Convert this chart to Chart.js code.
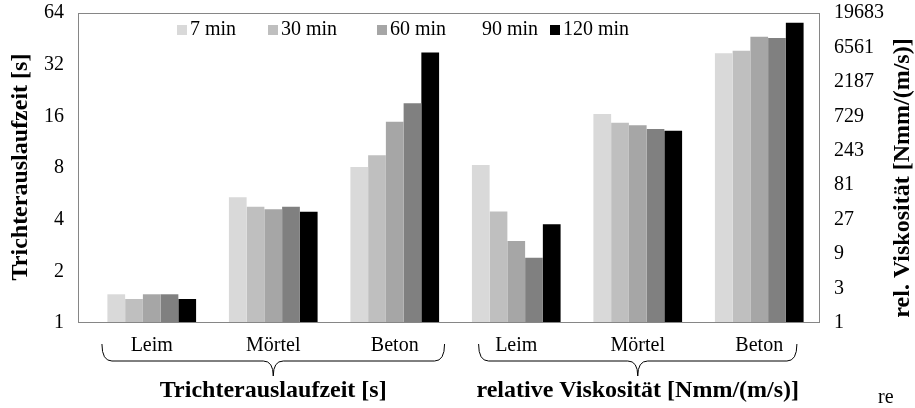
<!DOCTYPE html>
<html>
<head>
<meta charset="utf-8">
<script src="https://cdn.jsdelivr.net/npm/chart.js@4.4.1/dist/chart.umd.min.js"></script>
<style>
  body { margin: 0; background: #fff; }
  canvas { display: block; }
</style>
</head>
<body>
<canvas id="chart" width="915" height="408"></canvas>
<script>
// Kategorien: links Trichterauslaufzeit, rechts relative Viskosität
const categories = ["Leim", "Mörtel", "Beton", "Leim", "Mörtel", "Beton"];
const seriesNames = ["7 min", "30 min", "60 min", "90 min", "120 min"];
const seriesColors = ["#d9d9d9", "#bfbfbf", "#a6a6a6", "#808080", "#000000"];

// Trichterauslaufzeit [s] (Leim, Mörtel, Beton)
const zeit7 = [1.47, 5.4, 8.1];
const zeit30 = [1.38, 4.75, 9.5];
const zeit60 = [1.47, 4.6, 14.9];
const zeit90 = [1.47, 4.75, 19.1];
const zeit120 = [1.38, 4.45, 37.7];

// relative Viskosität [Nmm/(m/s)] (Leim, Mörtel, Beton)
const visk7 = [154, 787, 5440];
const visk30 = [35, 595, 5900];
const visk60 = [13.7, 547, 9250];
const visk90 = [8, 487, 8880];
const visk120 = [23.3, 461, 14470];

// Achsenbeschriftungen
const leftTicks = [1, 2, 4, 8, 16, 32, 64];
const rightTicks = [1, 3, 9, 27, 81, 243, 729, 2187, 6561, 19683];

const serif = "'Liberation Serif', 'Times New Roman', serif";

const zeitData = [zeit7, zeit30, zeit60, zeit90, zeit120];
const viskData = [visk7, visk30, visk60, visk90, visk120];

const datasets = [];
seriesNames.forEach((name, i) => {
  datasets.push({
    label: name,
    data: [...zeitData[i], null, null, null],
    backgroundColor: seriesColors[i],
    yAxisID: "y",
  });
});
seriesNames.forEach((name, i) => {
  datasets.push({
    label: name,
    data: [null, null, null, ...viskData[i]],
    backgroundColor: seriesColors[i],
    yAxisID: "y1",
  });
});

// Rahmen beginnt etwas links vom Kategorienbereich
const frameInset = 13;

// geschweifte Klammer unter den Kategorien
function brace(ctx, x0, x1, yTop, yMid, yTip) {
  const xm = (x0 + x1) / 2;
  const r = 10;
  ctx.beginPath();
  ctx.moveTo(x0, yTop);
  ctx.quadraticCurveTo(x0, yMid, x0 + r, yMid);
  ctx.lineTo(xm - r, yMid);
  ctx.quadraticCurveTo(xm, yMid, xm, yTip);
  ctx.quadraticCurveTo(xm, yMid, xm + r, yMid);
  ctx.lineTo(x1 - r, yMid);
  ctx.quadraticCurveTo(x1, yMid, x1, yTop);
  ctx.stroke();
  return xm;
}

const decoPlugin = {
  id: "deco",
  afterDraw(chart) {
    const ctx = chart.ctx;
    const area = chart.chartArea;
    const xs = chart.scales.x;
    ctx.save();

    // Rahmen um den Plotbereich
    ctx.strokeStyle = "#868686";
    ctx.lineWidth = 1;
    const fl = area.left - frameInset;
    ctx.strokeRect(fl + 0.5, area.top + 0.5, area.right - fl - 1, area.bottom - area.top - 1);

    // Klammern
    const s = xs.getPixelForValue(1) - xs.getPixelForValue(0);
    ctx.strokeStyle = "#000";
    const m1 = brace(ctx, xs.getPixelForValue(0) - 0.41 * s, xs.getPixelForValue(2) + 0.41 * s, 344, 361, 376);
    const m2 = brace(ctx, xs.getPixelForValue(3) - 0.31 * s, xs.getPixelForValue(5) + 0.31 * s, 344, 361, 376);

    // Titel unten
    ctx.fillStyle = "#000";
    ctx.font = "bold 24px " + serif;
    ctx.textAlign = "center";
    ctx.textBaseline = "middle";
    ctx.fillText("Trichterauslaufzeit [s]", m1, 391);
    ctx.fillText("relative Viskosität [Nmm/(m/s)]", m2, 391);

    // Achsentitel (gedreht)
    ctx.save();
    ctx.translate(21, 167);
    ctx.rotate(-Math.PI / 2);
    ctx.fillText("Trichterauslaufzeit [s]", 0, 0);
    ctx.restore();
    ctx.save();
    ctx.translate(903, 178);
    ctx.rotate(-Math.PI / 2);
    ctx.fillText("rel. Viskosität [Nmm/(m/s)]", 0, 0);
    ctx.restore();

    // abgeschnittener Text rechts unten
    ctx.font = "20px " + serif;
    ctx.textAlign = "left";
    ctx.fillText("re", 878, 398);

    // Legende im Plotbereich
    const legendX = [177, 268, 377, 469, 550];
    ctx.font = "20px " + serif;
    seriesNames.forEach((name, i) => {
      // im Original fehlt das Kästchen bei 90 min
      if (i !== 3) {
        ctx.fillStyle = seriesColors[i];
        ctx.fillRect(legendX[i], 25, 10, 10);
      }
      ctx.fillStyle = "#000";
      ctx.fillText(name, legendX[i] + 13, 30);
    });

    ctx.restore();
  },
};

const ctx = document.getElementById("chart").getContext("2d");

new Chart(ctx, {
  type: "bar",
  data: { labels: categories, datasets: datasets },
  options: {
    responsive: false,
    animation: false,
    devicePixelRatio: 1,
    layout: { padding: { top: 13, left: 0, right: 0, bottom: 0 } },
    datasets: {
      bar: {
        skipNull: true,
        categoryPercentage: 0.73,
        barPercentage: 1.0,
      },
    },
    plugins: {
      legend: { display: false },
      tooltip: { enabled: false },
    },
    scales: {
      x: {
        grid: { display: false },
        border: { display: false },
        ticks: {
          color: "#000",
          font: { family: serif, size: 20 },
          padding: 3,
          maxRotation: 0,
          autoSkip: false,
        },
        afterFit: (scale) => { scale.height = 85; },
      },
      y: {
        type: "logarithmic",
        position: "left",
        min: 1,
        max: 64,
        grid: { display: false, drawTicks: false },
        border: { display: false },
        ticks: {
          color: "#000",
          font: { family: serif, size: 20 },
          padding: 14 + frameInset,
          callback: (v) => String(v),
        },
        afterBuildTicks: (scale) => { scale.ticks = leftTicks.map((v) => ({ value: v })); },
        afterFit: (scale) => {
          scale.width = 78 + frameInset;
          scale.paddingTop = 0;
          scale.paddingBottom = 0;
        },
      },
      y1: {
        type: "logarithmic",
        position: "right",
        min: 1,
        max: 19683,
        grid: { display: false, drawTicks: false },
        border: { display: false },
        ticks: {
          color: "#000",
          font: { family: serif, size: 20 },
          padding: 14,
          callback: (v) => String(v),
        },
        afterBuildTicks: (scale) => { scale.ticks = rightTicks.map((v) => ({ value: v })); },
        afterFit: (scale) => {
          scale.width = 95;
          scale.paddingTop = 0;
          scale.paddingBottom = 0;
        },
      },
    },
  },
  plugins: [decoPlugin],
});
</script>
</body>
</html>
